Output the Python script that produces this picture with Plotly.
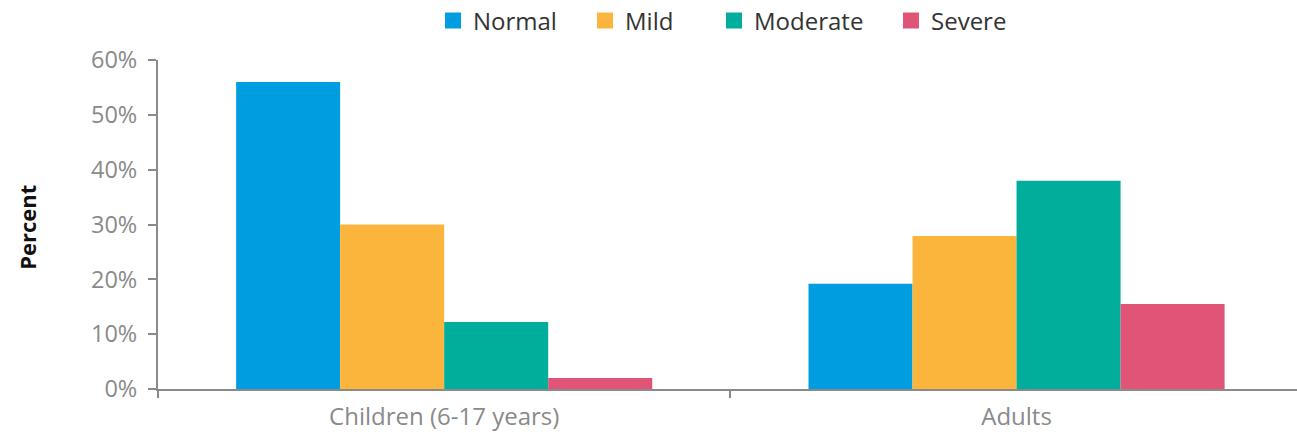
import plotly.graph_objects as go

groups = ["Children (6-17 years)", "Adults"]
severity = ["Normal", "Mild", "Moderate", "Severe"]
values = {
    "Normal": [56.0, 19.2],
    "Mild": [30.0, 27.9],
    "Moderate": [12.2, 38.0],
    "Severe": [2.0, 15.5],
}
colors = {
    "Normal": "#009EE0",
    "Mild": "#FBB53D",
    "Moderate": "#00AE9B",
    "Severe": "#E05477",
}
y_ticks = [0, 10, 20, 30, 40, 50, 60]
y_tick_labels = [f"{t}%" for t in y_ticks]

FONT = "Open Sans, sans-serif"
GREY = "#8a8a8a"

W, H = 1297, 433
L, R, T, B = 158, 0, 60, 44
plot_w = W - L - R
# left edge (px) of each legend entry
legend_left = [433, 585, 714, 891]

fig = go.Figure()
for s in severity:
    fig.add_trace(go.Bar(
        x=groups, y=values[s], name=s, showlegend=False,
        marker=dict(color=colors[s], line=dict(width=0)),
    ))

legend_cfg = {}
for i, s in enumerate(severity):
    key = "legend" if i == 0 else f"legend{i + 1}"
    # legend proxy with a bigger square swatch, one legend box per entry
    fig.add_trace(go.Scatter(
        x=[None], y=[None], mode="markers", name=s, legend=key,
        marker=dict(symbol="square", size=16, color=colors[s]),
    ))
    legend_cfg[key] = dict(
        orientation="h", x=(legend_left[i] - L) / plot_w, xanchor="left",
        yref="container", y=(H - 21) / H, yanchor="middle",
        font=dict(size=24, color="#333333"), itemsizing="trace",
        bgcolor="rgba(0,0,0,0)",
    )

fig.add_annotation(
    text="<b>Percent</b>", textangle=-90, showarrow=False,
    xref="paper", yref="paper", x=(27 - L) / plot_w, y=0.49,
    xanchor="center", yanchor="middle",
    font=dict(size=22, color="#111111"),
)

fig.update_layout(
    width=W, height=H,
    margin=dict(l=L, r=R, t=T, b=B, autoexpand=False),
    plot_bgcolor="white", paper_bgcolor="white",
    barmode="group", bargap=0.273, bargroupgap=0,
    font=dict(family=FONT, size=24, color=GREY),
    **legend_cfg,
)
fig.update_xaxes(
    range=[-0.5, 1.49], showline=True, linecolor=GREY, linewidth=2,
    ticks="outside", tickson="boundaries", ticklen=7, tickcolor=GREY, tickwidth=2,
    showgrid=False, zeroline=False, tickfont=dict(size=24, color=GREY),
    ticklabelstandoff=5, automargin=False,
)
fig.update_yaxes(
    range=[0, 60], tickvals=y_ticks, ticktext=y_tick_labels,
    showline=True, linecolor=GREY, linewidth=2,
    ticks="outside", ticklen=8, tickcolor=GREY, tickwidth=2,
    showgrid=False, zeroline=False, tickfont=dict(size=23.5, color=GREY),
    ticklabelstandoff=6, automargin=False,
)

# drop the default page margin so the figure fills the window
fig.write_html(
    "out.html",
    config={"displayModeBar": False},
    post_script="document.body.style.margin = '0';",
)
